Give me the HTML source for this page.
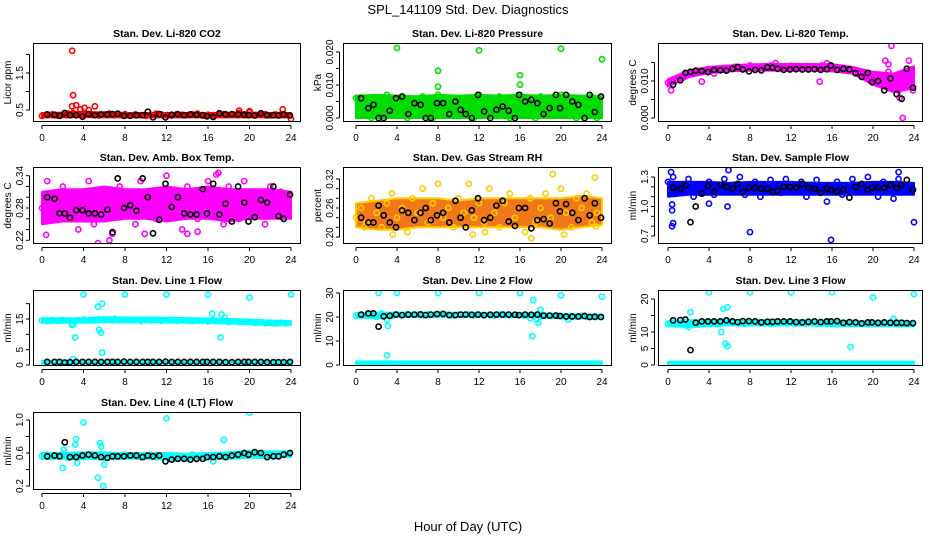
<!DOCTYPE html>
<html><head><meta charset="utf-8"><style>
html,body{margin:0;padding:0;background:#fff;}
svg{display:block;font-family:"Liberation Sans",Arial,sans-serif;}
</style></head><body>
<svg id="chart" width="936" height="540" viewBox="0 0 936 540">
<text x="468" y="14" text-anchor="middle" font-size="13">SPL_141109  Std. Dev. Diagnostics</text>
<text x="468" y="531" text-anchor="middle" font-size="13">Hour of Day (UTC)</text>
</svg>
<script>
const hours48=[0,0.5,1,1.5,2,2.5,3,3.5,4,4.5,5,5.5,6,6.5,7,7.5,8,8.5,9,9.5,10,10.5,11,11.5,12,12.5,13,13.5,14,14.5,15,15.5,16,16.5,17,17.5,18,18.5,19,19.5,20,20.5,21,21.5,22,22.5,23,23.5];
const blackHours=[0.5,1.2,1.7,2.2,2.7,3.3,3.9,4.5,5.1,5.7,6.3,6.8,7.3,7.9,8.5,9.1,9.7,10.2,10.7,11.3,11.9,12.5,13.1,13.7,14.3,14.9,15.5,15.9,16.5,17.1,17.7,18.3,18.9,19.5,19.9,20.5,21.1,21.7,22.3,22.8,23.3,23.9];
const bandHours=[0,2,4,6,8,10,12,14,16,18,20,22,24];
const xTicks=[0,4,8,12,16,20,24];

// CO2
const co2Color=[0.34,0.36,0.38,0.35,0.37,0.4,0.42,0.38,0.36,0.39,0.37,0.35,0.38,0.4,0.36,0.37,0.39,0.35,0.38,0.36,0.34,0.37,0.4,0.38,0.36,0.35,0.39,0.37,0.36,0.38,0.4,0.35,0.37,0.36,0.38,0.39,0.36,0.37,0.42,0.38,0.44,0.36,0.37,0.39,0.35,0.38,0.37,0.36];
const co2Black=[0.38,0.37,0.34,0.42,0.36,0.36,0.32,0.39,0.36,0.38,0.38,0.39,0.4,0.34,0.34,0.36,0.36,0.45,0.3,0.39,0.3,0.37,0.38,0.36,0.38,0.37,0.36,0.33,0.31,0.41,0.38,0.39,0.38,0.37,0.36,0.35,0.41,0.36,0.36,0.35,0.38,0.35];
const co2BandLo=[0.3,0.3,0.31,0.3,0.3,0.3,0.3,0.3,0.3,0.3,0.3,0.3,0.3];
const co2BandHi=[0.42,0.43,0.45,0.43,0.42,0.42,0.42,0.42,0.42,0.42,0.43,0.42,0.42];
const co2OutX=[2.9,3,2.9,3.3,3.7,4.1,4.5,5.1,19,20,23.2,24];
const co2OutY=[2.1,0.9,0.6,0.63,0.52,0.56,0.5,0.6,0.48,0.47,0.52,0.26];

// Pressure
const pressColor=[0.006,0.002,0.004,0,0.005,0.003,0.007,0.001,0.006,0.0035,0,0.0055,0.002,0.0065,0.004,0,0.007,0.003,0.005,0.001,0.006,0.0025,0.0045,0,0.007,0.003,0.0055,0.001,0.0065,0.004,0,0.006,0.007,0.002,0.005,0,0.0065,0.003,0.0045,0.001,0.007,0.0035,0.006,0,0.005,0.002,0.0065,0];
const pressBlack=[0.006,0.003,0.004,0,0,0.0022,0.006,0.0065,0.0012,0.0045,0.004,0,0,0.0045,0.0045,0.0012,0.005,0.0025,0.0012,0,0.007,0.002,0,0.0025,0.0035,0.0022,0,0.007,0.005,0.0055,0.0045,0.0012,0.003,0.007,0.003,0.007,0.005,0.004,0,0.007,0.0018,0.0065];
const pressBandLo=[0,0,0,0,0,0,0,0,0,0,0,0,0];
const pressBandHi=[0.0068,0.007,0.0068,0.0066,0.007,0.0068,0.007,0.0068,0.007,0.0068,0.007,0.0068,0.0066];
const pressOutX=[4,8,8,12,16,16,20,24];
const pressOutY=[0.0212,0.0143,0.0095,0.0205,0.013,0.0101,0.021,0.0178];

// Li-820 temp
const tempColor=[0.0095,0.01,0.0105,0.011,0.0118,0.012,0.0125,0.0128,0.013,0.012,0.0132,0.0135,0.0133,0.0138,0.0134,0.0136,0.0142,0.0137,0.0135,0.014,0.0142,0.0148,0.0139,0.0137,0.0141,0.0136,0.0138,0.014,0.0137,0.0135,0.0142,0.0148,0.0139,0.0136,0.0135,0.013,0.0128,0.0125,0.0118,0.0112,0.0095,0.0105,0.011,0.0125,0.009,0.0075,0.012,0.0105];
const tempBlack=[0.009,0.0102,0.0122,0.0125,0.0128,0.0127,0.0124,0.013,0.0129,0.0128,0.0133,0.0138,0.0131,0.0126,0.013,0.0129,0.0137,0.0136,0.0133,0.013,0.0131,0.0132,0.0131,0.0131,0.0132,0.013,0.0132,0.0142,0.013,0.0133,0.0131,0.0121,0.0111,0.0122,0.0097,0.01,0.0075,0.0107,0.0065,0.0052,0.0133,0.0082];
const tempBandLo=[0.0085,0.011,0.0122,0.0126,0.0128,0.0128,0.0128,0.0128,0.0126,0.012,0.009,0.007,0.008];
const tempBandHi=[0.0105,0.0128,0.0138,0.0142,0.0145,0.0146,0.0146,0.0146,0.0145,0.0138,0.0125,0.012,0.014];
const tempOutX=[0.3,21.2,21.8,22.9,23.5,23.9,21.5,3.3,14.8,22.6];
const tempOutY=[0.0075,0.0155,0.0195,0,0.0155,0.0075,0.0145,0.0098,0.0098,0.0055];

// Amb box temp
const ambColor=[0.28,0.33,0.26,0.3,0.32,0.27,0.29,0.24,0.31,0.33,0.25,0.3,0.28,0.22,0.29,0.32,0.27,0.3,0.25,0.33,0.28,0.31,0.26,0.29,0.34,0.27,0.3,0.24,0.32,0.28,0.26,0.31,0.33,0.27,0.29,0.25,0.32,0.3,0.26,0.33,0.28,0.31,0.27,0.25,0.32,0.29,0.31,0.27];
const ambBlack=[0.3,0.297,0.27,0.27,0.262,0.276,0.276,0.27,0.27,0.268,0.277,0.235,0.335,0.28,0.285,0.275,0.335,0.3,0.233,0.258,0.325,0.282,0.3,0.27,0.268,0.268,0.315,0.27,0.325,0.268,0.288,0.255,0.32,0.29,0.255,0.263,0.295,0.29,0.32,0.265,0.26,0.305];
const ambBandLo=[0.25,0.255,0.255,0.255,0.26,0.26,0.255,0.26,0.26,0.255,0.26,0.26,0.26];
const ambBandHi=[0.31,0.315,0.315,0.32,0.315,0.315,0.32,0.315,0.32,0.315,0.315,0.315,0.31];
const ambOutX=[0.4,5.4,6.8,9.9,17,16.8,14,15];
const ambOutY=[0.23,0.215,0.232,0.232,0.345,0.342,0.232,0.236];

// Gas stream RH
const rhColor=[0.24,0.26,0.23,0.28,0.25,0.22,0.27,0.29,0.24,0.26,0.21,0.28,0.25,0.3,0.23,0.27,0.31,0.24,0.26,0.22,0.28,0.25,0.31,0.24,0.27,0.23,0.3,0.25,0.22,0.27,0.29,0.24,0.26,0.21,0.28,0.23,0.26,0.29,0.24,0.27,0.3,0.25,0.22,0.28,0.26,0.29,0.23,0.25];
const rhBlack=[0.24,0.23,0.23,0.265,0.245,0.23,0.22,0.255,0.25,0.235,0.25,0.26,0.235,0.245,0.25,0.23,0.275,0.24,0.22,0.255,0.28,0.235,0.24,0.265,0.275,0.232,0.223,0.26,0.26,0.218,0.235,0.237,0.228,0.27,0.253,0.268,0.25,0.235,0.28,0.245,0.27,0.24];
const rhBandLo=[0.22,0.215,0.215,0.22,0.22,0.22,0.22,0.22,0.22,0.22,0.215,0.22,0.225];
const rhBandHi=[0.27,0.275,0.28,0.28,0.28,0.275,0.28,0.28,0.28,0.28,0.28,0.285,0.28];
const rhOutX=[0.8,3.6,11.4,12.6,17.1,19.2,20.3,23.3,23.4];
const rhOutY=[0.22,0.205,0.205,0.21,0.197,0.33,0.205,0.323,0.222];

// Sample flow
const sfColor=[1.25,1.3,1.15,1.2,1.28,1.1,1.22,1.18,1.25,1.12,1.2,1.28,1.15,1.22,1.3,1.12,1.2,1.25,1.1,1.18,1.27,1.2,1.14,1.28,1.2,1.15,1.25,1.1,1.22,1.27,1.15,1.05,1.2,1.25,1.12,1.2,1.28,1.15,1.22,1.3,1.18,1.1,1.25,1.2,1.08,1.28,1.15,1.22];
const sfBlack=[1.19,1.18,1.21,0.84,1.0,1.13,1.21,1.15,1.22,1.2,1.18,1.23,1.15,1.19,1.19,1.18,1.18,1.15,1.16,1.2,1.2,1.19,1.23,1.19,1.18,1.14,1.18,1.17,1.15,1.17,1.09,1.2,1.23,1.17,1.19,1.19,1.19,1.22,1.19,1.22,1.27,1.17];
const sfBandLo=[1.1,1.12,1.12,1.12,1.12,1.12,1.12,1.12,1.12,1.12,1.12,1.12,1.12];
const sfBandHi=[1.25,1.25,1.25,1.24,1.25,1.25,1.25,1.24,1.24,1.24,1.25,1.25,1.24];
const sfOutX=[0.3,0.4,0.4,0.5,0.4,5.9,8,15.9,24,4,5.8,22.5];
const sfOutY=[1.35,1.02,0.96,0.83,0.8,1.37,0.74,0.66,0.84,1.03,1.0,1.35];

// Line 1
const l1Color=[14.5,14.3,14.6,14.4,14.7,14.5,13.2,14.6,14.8,14.5,14.7,14.9,14.6,14.8,15,14.6,14.7,14.5,14.6,14.4,14.6,14.5,14.7,14.4,14.6,14.5,14.4,14.6,14.5,14.3,14.5,14.4,14.2,14.6,14.3,14.5,14.1,14.3,14,14.2,14,13.8,14,13.6,13.8,13.5,13.8,13.6];
const l1Black=[1,1,1,0.8,0.9,1,1,1,1,1,1,1,1,1.1,1,1,1,1,1,1,1.1,1,1,1,1,1,1,1,1,1,0.9,0.9,1,1,1,1,1,0.9,0.9,0.9,0.9,1];
const l1BandLo=[13.8,13.8,13.8,14,14,14,14,13.8,13.8,13.5,13.3,13,13];
const l1BandHi=[15.3,15.2,15.3,15.6,15.5,15.5,15.4,15.3,15.2,15,14.8,14.5,14.3];
const l1LowLo=[0.4,0.4,0.4,0.4,0.4,0.4,0.4,0.4,0.4,0.4,0.4,0.4,0.4];
const l1LowHi=[1.3,1.3,1.4,1.3,1.3,1.3,1.3,1.3,1.3,1.3,1.3,1.3,1.3];
const l1OutX=[4,5.4,5.8,8,12,16,20,24,2.9,3.2,5.5,5.7,5.8,3,16.4,17.2,17.3,17.6];
const l1OutY=[23,19,20,23,23,23,22,23,13,9,11.5,10.5,4,2,16.8,9,16.5,15.5];

// Line 2
const l2Color=[20.5,21,20.8,21.2,20,21.5,19,20.5,21,20.8,21.2,20.9,21,20.7,21.1,20.8,21.2,20.9,21,20.6,21,20.8,21.1,20.7,21,20.8,21,20.6,21,20.9,20.7,21,20.8,20.5,19.5,20.8,20.2,20.6,20.4,20.7,20.3,20.1,20.4,20.2,20.5,20,20.2,20.1];
const l2Black=[21,21.5,21.5,16,20.3,20.5,21,20.8,21,21,21.1,20.8,21,21.2,21.3,20.8,20.8,21,21,20.9,21,20.8,20.9,21,21,21,20.9,20.8,21,20.9,21,20.6,20.6,20.6,20.4,20.2,20.2,20.2,20.4,20,20.1,20];
const l2BandLo=[19.8,19.5,20,20,20.2,20.2,20.2,20.2,20,19.8,19.6,19.5,19.5];
const l2BandHi=[21.6,21.8,21.8,21.8,21.8,21.8,21.6,21.6,21.6,21.4,21.2,21,21];
const l2LowLo=[0,0,0,0,0,0,0,0,0,0,0,0,0];
const l2LowHi=[1.5,1.5,1.5,1.5,1.5,1.5,1.5,1.5,1.5,1.5,1.5,1.5,1.5];
const l2OutX=[2.2,4,8,12,16,20,24,3,3.1,17.2,17.3,17.6,17.8,18,20.7];
const l2OutY=[30,30,30,30,30,29,28.5,4,16.3,12,27,19,17.5,23,19];

// Line 3
const l3Color=[12.5,12.8,12.4,13,11.5,12.8,12.2,13,12.6,12.9,12.4,12.8,13.1,12.7,12.9,12.5,12.8,13,12.6,12.9,12.4,12.7,12.9,12.6,12.8,12.5,12.9,12.6,12.8,12.5,12.9,12.6,12.8,12.3,12.7,12.5,12.8,12.4,12.6,12.3,12.7,12.5,12.6,12.4,12.7,12.5,12.6,12.4];
const l3Black=[13.5,13.6,13.8,4.5,12.8,13.2,13.2,13.2,13.2,13.5,13.2,13,13.3,13.3,13.2,12.9,13.1,13.1,13.2,13.2,13.2,13,12.9,13.1,13.2,13,13.2,13.2,13.3,12.8,13,12.9,12.6,12.9,12.9,12.8,12.9,12.8,12.8,12.8,12.7,12.7];
const l3BandLo=[11.8,11.5,11.8,12,12,12,12,12,11.8,11.8,11.8,11.8,11.8];
const l3BandHi=[13.3,13.6,13.5,13.6,13.6,13.6,13.6,13.5,13.5,13.3,13.2,13.2,13.2];
const l3LowLo=[0,0,0,0,0,0,0,0,0,0,0,0,0];
const l3LowHi=[1,1,1,1,1,1,1,1,1,1,1,1,1];
const l3OutX=[2.2,4,5.4,5.8,5.2,5.6,5.8,8,12,16,17.8,20,24,22];
const l3OutY=[16,22,17,17.5,10,6.5,5.7,22,22,22,5.5,20.5,21.5,14];

// Line 4
const l4Color=[0.56,0.58,0.55,0.57,0.59,0.54,0.56,0.58,0.55,0.57,0.56,0.58,0.54,0.57,0.56,0.55,0.58,0.56,0.57,0.55,0.56,0.58,0.55,0.57,0.56,0.54,0.57,0.55,0.56,0.58,0.55,0.57,0.56,0.55,0.57,0.56,0.58,0.57,0.59,0.58,0.6,0.59,0.58,0.57,0.58,0.57,0.59,0.58];
const l4Black=[0.56,0.57,0.56,0.73,0.55,0.55,0.57,0.58,0.57,0.55,0.54,0.56,0.56,0.56,0.57,0.57,0.55,0.57,0.56,0.57,0.5,0.52,0.53,0.53,0.52,0.53,0.53,0.55,0.55,0.56,0.55,0.57,0.58,0.6,0.58,0.61,0.6,0.55,0.56,0.56,0.58,0.6];
const l4BandLo=[0.53,0.53,0.53,0.53,0.53,0.53,0.52,0.52,0.53,0.53,0.54,0.54,0.55];
const l4BandHi=[0.6,0.6,0.61,0.61,0.6,0.6,0.6,0.59,0.6,0.61,0.62,0.62,0.62];
const l4OutX=[2,2.1,3.2,3.3,3.4,4,5.4,5.6,5.7,5.9,6,12,16.5,17.5,20];
const l4OutY=[0.42,0.64,0.7,0.77,0.48,0.97,0.3,0.72,0.68,0.2,0.46,1.02,0.5,0.76,1.09];

const NS='http://www.w3.org/2000/svg';
const svg=document.getElementById('chart');
function mk(tag,attrs,parent){const e=document.createElementNS(NS,tag);for(const k in attrs)e.setAttribute(k,attrs[k]);(parent||svg).appendChild(e);return e;}

const cols=[{l:33,r:301,x0:42,x24:291},{l:343,r:612,x0:356,x24:602},{l:658,r:923,x0:668,x24:914}];
const rows=[{t:43,b:122},{t:167,b:244},{t:290,b:366},{t:412,b:490}];

const panels=[
 {key:'co2',title:'Stan. Dev. Li-820 CO2',ylab:'Licor ppm',r:0,c:0,cal:[0.5,110,1.5,73],ticks:[0.5,1,1.5,2],labels:['0.5','','1.5',''],col:'#ff0000',dot:'#ff0000',band:[[co2BandLo,co2BandHi]],pts:[[hours48,co2Color]],out:[co2OutX,co2OutY],blk:co2Black},
 {key:'pressure',title:'Stan. Dev. Li-820 Pressure',ylab:'kPa',r:0,c:1,cal:[0,118,0.02,52],ticks:[0,0.005,0.01,0.015,0.02],labels:['0.000','','0.010','','0.020'],col:'#00dd00',dot:'#00dd00',band:[[pressBandLo,pressBandHi]],pts:[[hours48,pressColor]],out:[pressOutX,pressOutY],blk:pressBlack},
 {key:'li820-temp',title:'Stan. Dev. Li-820 Temp.',ylab:'degrees C',r:0,c:2,cal:[0,118,0.01,81],ticks:[0,0.005,0.01,0.015],labels:['0.000','','0.010',''],col:'#ff00ff',dot:'#ff00ff',band:[[tempBandLo,tempBandHi]],pts:[[hours48,tempColor]],out:[tempOutX,tempOutY],blk:tempBlack},
 {key:'amb-box-temp',title:'Stan. Dev. Amb. Box Temp.',ylab:'degrees C',r:1,c:0,cal:[0.34,175.7,0.22,240.3],ticks:[0.22,0.24,0.26,0.28,0.3,0.32,0.34],labels:['0.22','','','0.28','','','0.34'],col:'#ff00ff',dot:'#ff00ff',band:[[ambBandLo,ambBandHi]],pts:[[hours48,ambColor]],out:[ambOutX,ambOutY],blk:ambBlack},
 {key:'gas-rh',title:'Stan. Dev. Gas Stream RH',ylab:'percent',r:1,c:1,cal:[0.32,179,0.2,237],ticks:[0.2,0.22,0.24,0.26,0.28,0.3,0.32],labels:['0.20','','','0.26','','','0.32'],col:'#f07818',dot:'#ffcc00',band:[[rhBandLo,rhBandHi]],pts:[[hours48,rhColor]],out:[rhOutX,rhOutY],blk:rhBlack},
 {key:'sample-flow',title:'Stan. Dev. Sample Flow',ylab:'ml/min',r:1,c:2,cal:[1.3,177,0.7,236],ticks:[0.7,0.8,0.9,1.0,1.1,1.2,1.3],labels:['0.7','','','1.0','','','1.3'],col:'#0000ff',dot:'#0000ff',band:[[sfBandLo,sfBandHi]],pts:[[hours48,sfColor]],out:[sfOutX,sfOutY],blk:sfBlack},
 {key:'line1-flow',title:'Stan. Dev. Line 1 Flow',ylab:'ml/min',r:2,c:0,cal:[0,365,15,319],ticks:[0,5,10,15,20],labels:['0','5','','15',''],col:'#00ffff',dot:'#00ffff',band:[[l1BandLo,l1BandHi],[l1LowLo,l1LowHi]],pts:[[hours48,l1Color]],out:[l1OutX,l1OutY],blk:l1Black},
 {key:'line2-flow',title:'Stan. Dev. Line 2 Flow',ylab:'ml/min',r:2,c:1,cal:[0,365,30,293],ticks:[0,10,20,30],labels:['0','10','20','30'],col:'#00ffff',dot:'#00ffff',band:[[l2BandLo,l2BandHi],[l2LowLo,l2LowHi]],pts:[[hours48,l2Color]],out:[l2OutX,l2OutY],blk:l2Black},
 {key:'line3-flow',title:'Stan. Dev. Line 3 Flow',ylab:'ml/min',r:2,c:2,cal:[0,365,20,299],ticks:[0,5,10,15,20],labels:['0','5','10','','20'],col:'#00ffff',dot:'#00ffff',band:[[l3BandLo,l3BandHi],[l3LowLo,l3LowHi]],pts:[[hours48,l3Color]],out:[l3OutX,l3OutY],blk:l3Black},
 {key:'line4-flow',title:'Stan. Dev. Line 4 (LT) Flow',ylab:'ml/min',r:3,c:0,cal:[0.2,486,1.0,420],ticks:[0.2,0.4,0.6,0.8,1.0],labels:['0.2','','0.6','','1.0'],col:'#00ffff',dot:'#00ffff',band:[[l4BandLo,l4BandHi]],pts:[[hours48,l4Color]],out:[l4OutX,l4OutY],blk:l4Black}
];

panels.forEach(p=>{
  const C=cols[p.c],R=rows[p.r];
  const g=mk('g',{});
  
  
  const xs=h=>C.x0+(C.x24-C.x0)*h/24;
  const [va,pa,vb,pb]=p.cal;
  const ys=v=>pa+(v-va)*(pb-pa)/(vb-va);
  const clipId='clip-'+p.key;
  const cp=mk('clipPath',{id:clipId},g);
  mk('rect',{x:C.l,y:R.t,width:C.r-C.l,height:R.b-R.t},cp);
  const plot=mk('g',{'clip-path':'url(#'+clipId+')'},g);
  p.band.forEach(([lo,hi])=>{
    let d='';
    bandHours.forEach((h,i)=>{d+=(i?'L':'M')+xs(h).toFixed(1)+','+ys(hi[i]).toFixed(1);});
    for(let i=bandHours.length-1;i>=0;i--)d+='L'+xs(bandHours[i]).toFixed(1)+','+ys(lo[i]).toFixed(1);
    const b=mk('path',{d:d+'Z',fill:p.col,stroke:p.dot,'stroke-width':2,'stroke-linejoin':'round'},plot);
    
    
  });
  const dot=(x,y,color)=>mk('circle',{cx:xs(x).toFixed(1),cy:ys(y).toFixed(1),r:2.6,fill:'none',stroke:color,'stroke-width':1.6},plot);
  p.pts.forEach(([hx,vy])=>{hx.forEach((h,i)=>{
    const c=dot(h,vy[i],p.dot);
    
    
  });});
  p.out[0].forEach((h,i)=>{
    const c=dot(h,p.out[1][i],p.dot);
    
    
  });
  blackHours.forEach((h,i)=>{
    const c=dot(h,p.blk[i],'#000');
    
    
  });
  const box=mk('rect',{x:C.l+0.5,y:R.t+0.5,width:C.r-C.l-1,height:R.b-R.t-1,fill:'none',stroke:'#000','stroke-width':1},g);
  
  
  mk('line',{x1:xs(0),x2:xs(24),y1:R.b+3.5,y2:R.b+3.5,stroke:'#000'},g);
  xTicks.forEach(t=>{
    mk('line',{x1:xs(t),x2:xs(t),y1:R.b+3.5,y2:R.b+7,stroke:'#000'},g);
    const tx=mk('text',{x:xs(t),y:R.b+19,'text-anchor':'middle','font-size':10},g);
    tx.textContent=t;
    
    
  });
  const yt=p.ticks;
  mk('line',{x1:C.l-3.5,x2:C.l-3.5,y1:ys(yt[0]),y2:ys(yt[yt.length-1]),stroke:'#000'},g);
  yt.forEach((t,i)=>{
    const y=ys(t);
    mk('line',{x1:C.l-7,x2:C.l-3.5,y1:y,y2:y,stroke:'#000'},g);
    if(p.labels[i]){
      const tx=mk('text',{x:0,y:0,'text-anchor':'middle','font-size':10,transform:'translate('+(C.l-10)+','+y.toFixed(1)+') rotate(-90)'},g);
      tx.textContent=p.labels[i];
      
      
    }
  });
  const yl=mk('text',{x:0,y:0,'text-anchor':'middle','font-size':10,transform:'translate('+(C.l-22)+','+((R.t+R.b)/2)+') rotate(-90)'},g);
  yl.textContent=p.ylab;
  
  
  const tt=mk('text',{x:(C.l+C.r)/2,y:R.t-6,'text-anchor':'middle','font-size':10.5,'font-weight':'bold'},g);
  tt.textContent=p.title;
  
  
});
</script>
</body></html>
